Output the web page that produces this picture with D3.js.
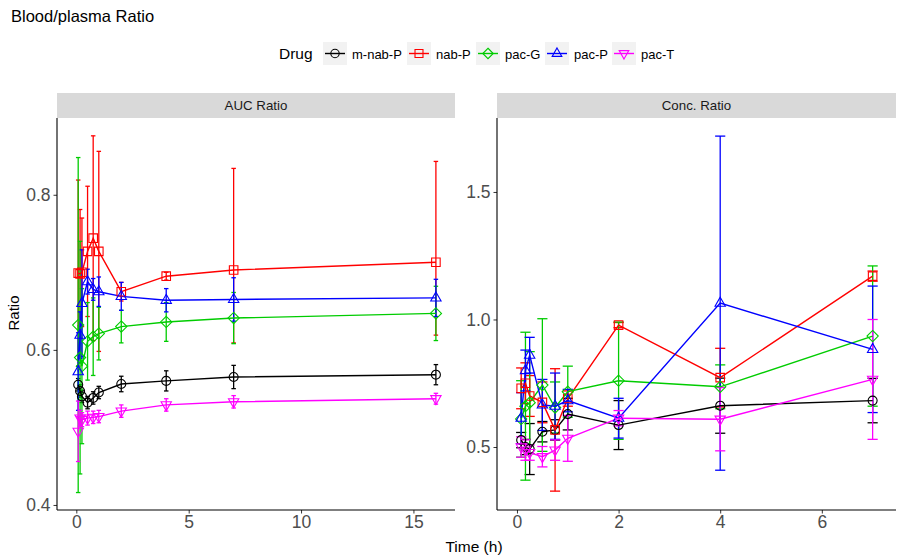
<!DOCTYPE html>
<html><head><meta charset="utf-8">
<script src="https://cdn.jsdelivr.net/npm/d3@7"></script>
<style>body{margin:0;background:#fff;} text{font-family:"Liberation Sans", Arial, sans-serif;}</style>
</head><body><svg id="c" width="900" height="560"></svg>
<script>
// ---------------- data ----------------
const drugs = ["m-nab-P", "nab-P", "pac-G", "pac-P", "pac-T"];
const colors = ["#000000", "#FF0000", "#00CC00", "#0000FF", "#FF00FF"];
const panels = ["AUC Ratio", "Conc. Ratio"];

const aucTimes = [0.083, 0.167, 0.25, 0.5, 0.75, 1, 2, 4, 7, 16];
const concTimes = [0.083, 0.167, 0.25, 0.5, 0.75, 1, 2, 4, 7];

// AUC ratio means
const aucMNabP = [0.555, 0.547, 0.540, 0.532, 0.538, 0.545, 0.556, 0.560, 0.565, 0.568];
const aucNabP  = [0.699, 0.698, 0.700, 0.727, 0.744, 0.727, 0.675, 0.695, 0.703, 0.713];
const aucPacG  = [0.632, 0.590, 0.579, 0.611, 0.617, 0.621, 0.630, 0.636, 0.641, 0.647];
const aucPacP  = [0.572, 0.619, 0.660, 0.688, 0.678, 0.675, 0.669, 0.664, 0.665, 0.667];
const aucPacT  = [0.495, 0.512, 0.510, 0.512, 0.513, 0.514, 0.521, 0.529, 0.533, 0.537];
// AUC ratio error (upper half-widths; lower equal unless given)
const aucMNabPErr = [0.008, 0.008, 0.008, 0.008, 0.008, 0.008, 0.010, 0.013, 0.015, 0.013];
const aucNabPErr  = [0.120, 0.083, 0.070, 0.084, 0.132, 0.129, 0.012, 0.005, 0.131, 0.130];
const aucNabPErrLow = [0.120, 0.083, 0.070, 0.084, 0.132, 0.129, 0.012, 0.005, 0.094, 0.094];
const aucPacGErr  = [0.216, 0.150, 0.100, 0.050, 0.050, 0.034, 0.021, 0.025, 0.033, 0.035];
const aucPacPErr  = [0.050, 0.030, 0.069, 0.016, 0.014, 0.019, 0.018, 0.015, 0.028, 0.024];
const aucPacTErr  = [0.039, 0.010, 0.009, 0.009, 0.008, 0.008, 0.008, 0.008, 0.008, 0.007];

// Concentration ratio means
const concMNabP = [0.527, 0.500, 0.492, 0.560, 0.567, 0.629, 0.586, 0.662, 0.682];
const concNabP  = [0.730, 0.750, 0.700, 0.675, 0.567, 0.690, 0.978, 0.772, 1.170];
const concPacG  = [0.610, 0.660, 0.674, 0.743, 0.655, 0.717, 0.760, 0.736, 0.935];
const concPacP  = [0.613, 0.800, 0.860, 0.665, 0.660, 0.682, 0.613, 1.064, 0.883];
const concPacT  = [0.500, 0.488, 0.478, 0.462, 0.488, 0.534, 0.613, 0.609, 0.765];
// Concentration ratio error half-widths
const concMNabPErr = [0.030, 0.030, 0.100, 0.040, 0.040, 0.062, 0.096, 0.108, 0.087];
const concNabPErr  = [0.080, 0.080, 0.080, 0.080, 0.240, 0.030, 0.010, 0.115, 0.020];
const concPacGErr  = [0.150, 0.290, 0.200, 0.260, 0.100, 0.100, 0.230, 0.086, 0.275];
const concPacPErr  = [0.100, 0.080, 0.070, 0.100, 0.130, 0.044, 0.078, 0.655, 0.248];
const concPacTErr  = [0.040, 0.040, 0.030, 0.040, 0.040, 0.090, 0.030, 0.124, 0.235];

const yTicksAUC = [0.4, 0.6, 0.8];
const yTicksConc = [0.5, 1.0, 1.5];
const xTicksAUC = [0, 5, 10, 15];
const xTicksConc = [0, 2, 4, 6];

// --------------- build ---------------
const aucMeans = [aucMNabP, aucNabP, aucPacG, aucPacP, aucPacT];
const aucErrs = [aucMNabPErr, aucNabPErr, aucPacGErr, aucPacPErr, aucPacTErr];
const aucErrsLow = [aucMNabPErr, aucNabPErrLow, aucPacGErr, aucPacPErr, aucPacTErr];
const concMeans = [concMNabP, concNabP, concPacG, concPacP, concPacT];
const concErrs = [concMNabPErr, concNabPErr, concPacGErr, concPacPErr, concPacTErr];

const svg = d3.select("#c");
const W = 900, H = 560;
svg.append("rect").attr("width", W).attr("height", H).attr("fill", "#fff");

svg.append("text").attr("x", 11).attr("y", 22).attr("font-size", 16.5).attr("fill", "#000").text("Blood/plasma Ratio");

function shapePath(i, r) {
  if (i === 0) return d3.symbol(d3.symbolCircle, Math.PI * r * r)();
  if (i === 1) { const s = r * 0.95; return `M${-s},${-s}H${s}V${s}H${-s}Z`; }
  if (i === 2) { const s = r * 1.25; return `M0,${-s}L${s},0L0,${s}L${-s},0Z`; }
  if (i === 3) { const s = r * 1.15; return `M0,${-s * 1.15}L${s},${s * 0.6}L${-s},${s * 0.6}Z`; }
  const s = r * 1.15; return `M0,${s * 1.15}L${s},${-s * 0.6}L${-s},${-s * 0.6}Z`;
}

const panelDefs = [
  { name: panels[0], x0: 57, x1: 455, xdom: [-0.86, 16.85], ydom: [0.3935, 0.899], times: aucTimes, means: aucMeans, errs: aucErrs, errsLow: aucErrsLow, xt: xTicksAUC, yt: yTicksAUC },
  { name: panels[1], x0: 497, x1: 896, xdom: [-0.393, 7.46], ydom: [0.253, 1.79], times: concTimes, means: concMeans, errs: concErrs, errsLow: concErrs, xt: xTicksConc, yt: yTicksConc }
];
const pTop = 118, pBottom = 510, stripTop = 93;

panelDefs.forEach(p => {
  const x = d3.scaleLinear().domain(p.xdom).range([p.x0, p.x1]);
  const y = d3.scaleLinear().domain(p.ydom).range([pBottom, pTop]);
  const g = svg.append("g");
  g.append("rect").attr("x", p.x0).attr("y", stripTop).attr("width", p.x1 - p.x0).attr("height", pTop - stripTop).attr("fill", "#D9D9D9");
  g.append("text").attr("x", (p.x0 + p.x1) / 2).attr("y", (stripTop + pTop) / 2).attr("dy", "0.35em")
    .attr("text-anchor", "middle").attr("font-size", 13.3).attr("fill", "#1A1A1A").text(p.name);

  const ax = g.append("g").attr("transform", `translate(0,${pBottom})`)
    .call(d3.axisBottom(x).tickValues(p.xt).tickSize(3.5).tickPadding(2.5).tickFormat(d3.format("d")));
  const ay = g.append("g").attr("transform", `translate(${p.x0},0)`)
    .call(d3.axisLeft(y).tickValues(p.yt).tickSize(3.5).tickPadding(3).tickFormat(d3.format(".1f")));
  [ax, ay].forEach(a => {
    a.select(".domain").remove();
    a.selectAll(".tick line").attr("stroke", "#333").attr("stroke-width", 1);
    a.selectAll(".tick text").attr("fill", "#4D4D4D").attr("font-size", 17.5).attr("font-family", '"Liberation Sans", Arial, sans-serif');
  });
  g.append("line").attr("x1", p.x0).attr("x2", p.x1).attr("y1", pBottom).attr("y2", pBottom).attr("stroke", "#000").attr("stroke-width", 1.1);
  g.append("line").attr("x1", p.x0).attr("x2", p.x0).attr("y1", pTop).attr("y2", pBottom).attr("stroke", "#000").attr("stroke-width", 1.1);

  const capW = 0.1;
  drugs.forEach((d, i) => {
    const eg = g.append("g").attr("stroke", colors[i]).attr("stroke-width", 1.3).attr("fill", "none");
    p.times.forEach((t, k) => {
      const m = p.means[i][k];
      const yl = y(m - p.errsLow[i][k]), yh = y(m + p.errs[i][k]);
      eg.append("line").attr("x1", x(t)).attr("x2", x(t)).attr("y1", yl).attr("y2", yh);
      eg.append("line").attr("x1", x(t - capW)).attr("x2", x(t + capW)).attr("y1", yl).attr("y2", yl);
      eg.append("line").attr("x1", x(t - capW)).attr("x2", x(t + capW)).attr("y1", yh).attr("y2", yh);
    });
  });
  drugs.forEach((d, i) => {
    const line = d3.line().x((t) => x(t)).y((t, k) => y(p.means[i][k]));
    g.append("path").datum(p.times).attr("d", line).attr("fill", "none").attr("stroke", colors[i]).attr("stroke-width", 1.4);
  });
  drugs.forEach((d, i) => {
    g.append("g").selectAll("path").data(p.times).join("path")
      .attr("transform", (t, k) => `translate(${x(t)},${y(p.means[i][k])})`)
      .attr("d", shapePath(i, 4.5)).attr("fill", "none").attr("stroke", colors[i]).attr("stroke-width", 1.1);
  });
});

svg.append("text").attr("x", 474).attr("y", 547).attr("dy", "0.35em").attr("text-anchor", "middle").attr("font-size", 15.5).attr("fill", "#000").text("Time (h)");
svg.append("text").attr("transform", "translate(14,313) rotate(-90)").attr("dy", "0.35em").attr("text-anchor", "middle").attr("font-size", 15).attr("fill", "#000").text("Ratio");

const lg = svg.append("g");
lg.append("text").attr("x", 279).attr("y", 54).attr("dy", "0.35em").attr("font-size", 15.5).attr("fill", "#000").text("Drug");
const keyX = [323, 407, 476, 545, 612];
drugs.forEach((d, i) => {
  const kx = keyX[i];
  lg.append("rect").attr("x", kx).attr("y", 42).attr("width", 24).attr("height", 23).attr("fill", "#F2F2F2");
  lg.append("line").attr("x1", kx + 2).attr("x2", kx + 22).attr("y1", 53.5).attr("y2", 53.5).attr("stroke", colors[i]).attr("stroke-width", 1.4);
  lg.append("path").attr("transform", `translate(${kx + 12},53.5)`).attr("d", shapePath(i, 4.2)).attr("fill", "none").attr("stroke", colors[i]).attr("stroke-width", 1.1);
  lg.append("text").attr("x", kx + 29).attr("y", 54).attr("dy", "0.35em").attr("font-size", 13).attr("fill", "#000").text(d);
});
</script></body></html>
